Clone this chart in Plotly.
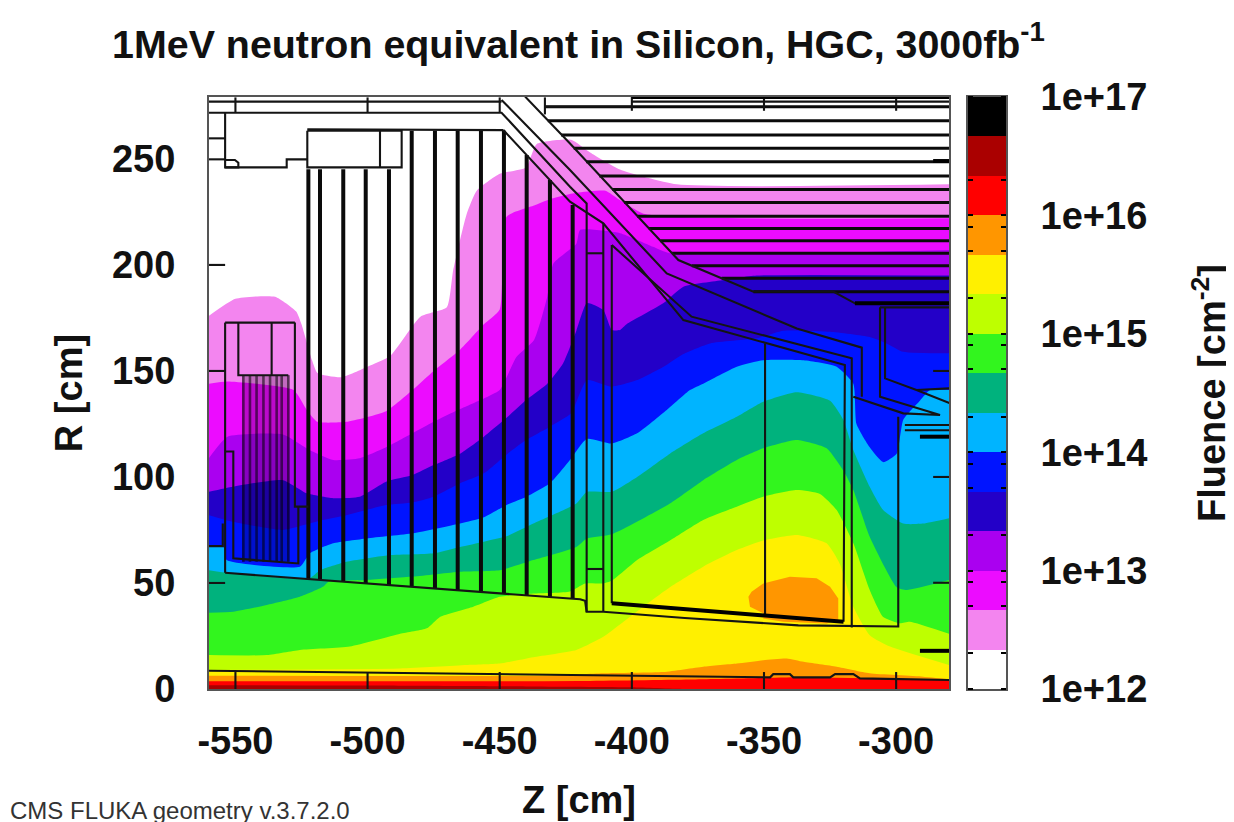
import plotly.graph_objects as go

# ---- colour scale: fluence levels from 1e12 to 1e17 (three bands per decade)
LEVEL_COLORS = ["#ffffff", "#f385ef", "#ec0cff", "#aa00f0", "#2300c8", "#0014ff", "#00b4ff",
                "#00b27d", "#32f51e", "#beff00", "#fff000", "#ff9600", "#ff0000", "#aa0000", "#000000"]
DECADE_EDGES = [12 + i / 3 for i in range(16)]
DECADE_TICKS = [12, 13, 14, 15, 16, 17]
DECADE_LABELS = ["1e+12", "1e+13", "1e+14", "1e+15", "1e+16", "1e+17"]
MINOR_TICKS = [12.301, 12.699, 12.903, 13.301, 13.699, 13.903, 14.301, 14.699, 14.903,
               15.301, 15.699, 15.903, 16.301]

# ---- upper edge of each fluence band, R [cm] against Z [cm]
PINK_Z = [-560, -550, -535, -527, -525, -521, -519, -510, -500, -491.5, -480, -470, -467.6, -462.5, -458.7, -450, -440, -436, -423, -415.8, -404.5, -383, -280]
PINK_R = [176, 184, 185, 178, 172, 155, 149, 147, 152, 157, 175.6, 180, 197.6, 224, 235, 243, 246, 257, 259, 253, 245, 238, 238]
MAGENTA_Z = [-560, -553, -528, -523, -519, -508, -493, -483, -475, -465, -456, -450, -447.4, -437, -431, -421, -410, -405, -395, -280]
MAGENTA_R = [144, 145, 141, 131.6, 126, 126, 131, 141, 150, 160, 172, 179, 222.7, 228, 231, 234, 235, 231, 224, 222]
PURPLE_Z = [-560, -553, -532, -522, -513, -503, -493, -483, -475, -465, -456, -450, -443.6, -437, -432, -429.7, -421, -419.6, -404.5, -392, -385.6, -280]
PURPLE_R = [109, 119, 120, 112.7, 108, 108.8, 114, 120.6, 126, 132, 137, 141, 156.7, 164.6, 185, 200.7, 210, 216.5, 215, 208.6, 205.5, 207]
INDIGO_Z = [-560, -551, -532, -523, -513, -503, -493, -483, -475, -465, -456, -447, -440, -432, -426, -421, -417, -410.8, -407.6, -404.5, -402, -388, -380.5, -365.4, -352.8, -280]
INDIGO_R = [93, 95.4, 98.5, 92.3, 90, 90.7, 97.8, 100.9, 105.6, 111, 119, 128.4, 136.3, 144, 153.6, 169, 182, 178.7, 169.3, 169.3, 172, 182, 189.7, 192.9, 195, 195]
BLUE_Z = [-560, -551, -532, -522, -517, -508, -493, -483, -475, -465, -456, -447, -440, -431, -423, -417, -407.6, -398, -388, -380.5, -370.4, -352.8, -342.7, -325, -310, -303.6, -297.3, -280]
BLUE_R = [82, 78.9, 75, 78, 79.7, 82, 86.8, 88, 90.7, 97, 101.7, 111, 117.4, 123.7, 130, 145.7, 142.6, 145.7, 152, 158, 163, 165.4, 169, 168.5, 166, 163, 159, 158.3]
SKY_Z = [-560, -554.5, -553.3, -525.6, -521.8, -513, -500.3, -482.7, -465, -456, -447.4, -439.8, -431, -423.4, -417, -407.6, -398, -386.8, -378, -373, -360.3, -350.3, -335, -322.5, -316.2, -315, -310, -304.9, -299.8, -297.3, -291, -287.2, -280]
SKY_R = [67, 67, 60.8, 57.7, 64, 68.7, 71, 73.4, 78, 81, 86.8, 90.7, 97, 108, 118, 115.8, 120.6, 131.6, 141, 144, 152, 155, 155, 152, 144, 125, 114, 107, 111, 127, 136, 141, 141]
TEAL_Z = [-560, -553.3, -522, -518, -508, -492.8, -475, -465, -456, -447.4, -437.3, -421, -417, -407.6, -398, -385.6, -373, -360.3, -350.3, -337.6, -325, -320, -316.2, -310, -304.9, -297.3, -289.7, -280]
TEAL_R = [56, 54.8, 52.2, 56, 60, 63, 64, 67, 69.5, 72, 78, 87.5, 93, 93, 100, 111, 120.6, 128.4, 135.5, 140, 136, 127, 112.7, 95.4, 84.4, 78, 78, 80.5]
GREEN_Z = [-560, -550.8, -538.2, -525.6, -516.7, -514.8, -500.3, -482.7, -465, -450, -437.3, -421, -417, -407.6, -385.6, -373, -360.3, -350.3, -337.6, -326.3, -320, -316.2, -310, -299.8, -296, -280]
GREEN_R = [36, 36.4, 39.6, 43.5, 48.3, 50.6, 51.4, 53, 55.3, 56, 60.8, 67, 71, 73, 87.5, 98.5, 108, 113.5, 117.4, 113.5, 103, 93.8, 71.8, 48, 46.7, 51.4]
LIME_Z = [-560, -538, -525.6, -506.7, -487.7, -477.6, -472.6, -460, -450, -437.3, -423.4, -417.7, -410.8, -407.6, -398, -385.6, -373, -360.3, -350.3, -337.6, -328.8, -322.5, -316.2, -310, -304.9, -298.6, -294.8, -280]
LIME_R = [16, 16, 18.4, 20, 26, 28.6, 34, 38.8, 43.5, 45, 46, 49.8, 49.8, 51, 60.8, 70, 79.7, 86, 90.7, 93.8, 92, 84.4, 68.7, 46.7, 34, 31, 31.7, 26]
YELLOW_Z = [-560, -487.7, -462.5, -450, -437.3, -421, -410.8, -403.9, -394.4, -385.6, -373, -360.3, -350.3, -337.6, -326.3, -321.3, -316.2, -310, -302.3, -280]
YELLOW_R = [9, 9.7, 11.3, 12, 15, 18.4, 24.6, 31, 40, 48, 57.7, 65.5, 70, 72.6, 68.7, 59, 38.8, 25.4, 20, 11.3]
ORANGE_Z = [-560, -430, -410.8, -388, -373, -360.3, -350.3, -341.4, -335, -322.5, -310, -289.7, -280]
ORANGE_R = [6.3, 6.3, 7.4, 8, 10.5, 12, 13.6, 14.4, 12.8, 10.5, 7.4, 5.8, 4.6]
RED_Z = [-560, -420, -378, -335, -280]
RED_R = [3.6, 3.8, 4.5, 5.5, 4.2]
DARKRED_Z = [-560, -500, -440, -400, -380, -280]
DARKRED_R = [1.8, 1.6, 1.2, 0.8, 0, 0]
BLOB_Z = [-355.9, -355.3, -350.3, -350.3, -342.7, -326.3, -321.9, -321.9, -325, -330.1, -340.2, -345.2, -350.3, -354.7, -355.9]
BLOB_R = [43.5, 38.8, 35.7, 33.3, 31.7, 30.9, 32.5, 42.7, 48.2, 52.2, 52.9, 51.4, 49.8, 45.9, 43.5]

# ---- detector geometry outline, Z and R in cm (None breaks the line)
THIN_Z = [-560, -449.3, None, -560, -449.3, -423.4, -417.1, -417.1, -410.8, -380, -337, -299.2, -299.2, None,
          -522.8, -448.6, None, -550, -550, None, -500, -500, None, -450, -450, None,
          -553.9, -553.9, -548.9, -548.9, -550.2, -553.9, None, -553.9, -530.6, -530.6, -522.8, None,
          -522.8, -522.8, -487.1, -487.1, -522.8, None, -495.3, -495.3, None,
          -560, -553.9, None, -560, -553.9, None, -560, -553.9, None, -560, -553.9, None,
          -440.4, -423.4, -382.4, -354, -323.8, -315.6, -279.6, None,
          -449.3, -423.4, -386.8, -337.6, -313, -313, None,
          -448.6, -423.4, -410.8, -380.5, -319.4, -319.9, None,
          -407.6, -407.6, None, -407.6, -377.4, -316.8, -316.8, None, -349.6, -349.6, None,
          -410.8, -410.8, None,
          -306.1, -306.1, -283.4, -297.3, -316.2, None, -304.2, -304.2, -292.3, -279.6, None, -292.3, -279.6, None,
          -306.1, -279.6, None, -296.7, -279.6, None, -296.7, -279.6, None,
          -286, -280, None, -286, -280, None, -286, -280, None,
          -417.1, -410.8, None, -417.1, -410.8, None,
          -553.9, -553.9, None, -527.5, -527.5, -522.4, None, -553.9, -527.5, None,
          -548.9, -548.9, -530, None, -536.3, -536.3, None, -553.9, -550.8, -550.8, -526.2, -526.2, None,
          -560, -554.8, -554.8, None, -560, -553.9, None,
          -553.9, -419.6, -417.7, -417.1, None,
          -560, -350.3, -347.7, -346.5, -340.2, -338.9, -325, -323.1, -316.2, -313.7, -279.6, None,
          -550, -550, None, -500, -500, None, -450, -450, None, -400, -400, None, -350, -350, None, -300, -300, None,
          -400, -400, None, -350, -350, None, -300, -300, None, -432.9, -432.9, None, -432.9, -400, None, -400, -280]
THIN_R = [277, 277, None, 271.8, 271.8, 236.9, 229, 36.4, 36.4, 33.5, 30, 29.5, 128.4, None,
          264, 263.6, None, 279, 271.8, None, 279, 271.8, None, 279, 271.8, None,
          271.8, 246, 246, 248.2, 249.5, 249.5, None, 246, 246, 249.8, 249.8, None,
          263.3, 246, 246, 263.3, 263.3, None, 263.3, 246, None,
          259.7, 259.7, None, 249.8, 249.8, None, 200, 200, None, 150, 150, None,
          279.4, 257.3, 202.3, 187.4, 187.4, 181.9, 181.9, None,
          277.8, 244.8, 196, 170, 161, 137.8, None,
          263.6, 229.8, 219.6, 174, 152.8, 31.7, None,
          209.4, 40.4, None, 209.4, 175.6, 156, 29, None, 163, 34, None,
          219.6, 36.4, None,
          180, 137.8, 129.2, 130, 137.8, None, 180, 146.5, 141, 134.7, None, 141, 141.8, None,
          180, 180, None, 124.5, 124.5, None, 122, 122, None,
          100, 100, None, 50.1, 50.1, None, 150, 150, None,
          205.5, 205.5, None, 56.6, 56.6, None,
          172.8, 54.8, None, 172.8, 86, 86, None, 172.8, 172.8, None,
          172.8, 148, 148, None, 172.8, 148, None, 112, 112, 61.6, 59.2, 86, None,
          67.4, 67.4, 78, None, 50, 50, None,
          54.8, 42.3, 41.6, 36.4, None,
          8.6, 5.5, 5.5, 7, 7, 5.5, 5.5, 7, 7, 5, 4.2, None,
          8, 0, None, 8, 0, None, 8, 0, None, 8, 0, None, 8, 0, None, 8, 0, None,
          280, 272.7, None, 280, 272.7, None, 280, 272.7, None, 279, 271, None, 274.6, 274.6, None, 277, 277]
THICK_Z = [-407.6, -319.9, None, -315.6, -279.6, None, -400, -280, None,
           -291, -280, None, -291, -280, None, -286, -280]
THICK_R = [40.4, 31.7, None, 181.9, 181.9, None, 279.2, 279.2, None,
           119, 119, None, 18, 18, None, 249, 249]

# absorber plates
PLATE_Z = [-522.4, -518, -509.2, -500.7, -491.9, -483.3, -474.5, -465.9, -457.1, -448.4, -439.8, -431, -422.4]
PLATE_TOP_R = [245.1, 245.1, 245.1, 245.1, 245.1, 263.3, 263.3, 263.3, 263.3, 263.3, 251.8, 240, 228.3]
PLATE_BOTTOM_R = [51.9, 51.5, 50.6, 49.8, 49, 48.2, 47.4, 46.6, 45.8, 45, 44.2, 43.4, 42.5]

# fine layers of the inner detector, and the denser block that they form
LAYER_Z = [-547, -544.5, -542, -539.4, -536.9, -534.4, -532.5, -530]
LAYER_TOP_R = 148
LAYER_BOTTOM_R = 60
LAYER_BLOCK_Z = [-547.5, -529.5, -529.5, -547.5, -547.5]
LAYER_BLOCK_R = [148, 148, 60, 60, 148]

# horizontal shelves on the upper right: R and starting Z
SHELF_R = [274.6, 268, 261.3, 255, 248.7, 242, 235.6, 229.5, 223, 217.2, 211.4, 205.5, 199.6, 193.7, 187.4]
SHELF_Z = [-432.9, -431.8, -426.8, -422, -417.3, -412.3, -407.4, -402.9, -398, -393.6, -389.2, -384.8, -377.3, -366, -354]

Z_TICKS = [-550, -500, -450, -400, -350, -300]
Z_LABELS = ["-550", "-500", "-450", "-400", "-350", "-300"]
R_TICKS = [0, 50, 100, 150, 200, 250]
R_LABELS = ["0", "50", "100", "150", "200", "250"]

FONT = "Liberation Sans"
INK = "#111111"
fig = go.Figure()

bands = [(PINK_Z, PINK_R, 1), (MAGENTA_Z, MAGENTA_R, 2), (PURPLE_Z, PURPLE_R, 3), (INDIGO_Z, INDIGO_R, 4),
         (BLUE_Z, BLUE_R, 5), (SKY_Z, SKY_R, 6), (TEAL_Z, TEAL_R, 7), (GREEN_Z, GREEN_R, 8),
         (LIME_Z, LIME_R, 9), (YELLOW_Z, YELLOW_R, 10), (ORANGE_Z, ORANGE_R, 11), (RED_Z, RED_R, 12),
         (DARKRED_Z, DARKRED_R, 13)]
for zs, rs, idx in bands:
    fig.add_trace(go.Scatter(x=zs, y=rs, mode="lines",
                             line=dict(width=0, color=LEVEL_COLORS[idx], shape="spline", smoothing=0.5),
                             fill="tozeroy", fillcolor=LEVEL_COLORS[idx], hoverinfo="skip"))
fig.add_trace(go.Scatter(x=BLOB_Z, y=BLOB_R, mode="lines", line=dict(width=0, color=LEVEL_COLORS[11]),
                         fill="toself", fillcolor=LEVEL_COLORS[11], hoverinfo="skip"))

def broken(pairs):
    xs, ys = [], []
    for (x0, x1, y0, y1) in pairs:
        xs += [x0, x1, None]
        ys += [y0, y1, None]
    return xs, ys

fig.add_trace(go.Scatter(x=LAYER_BLOCK_Z, y=LAYER_BLOCK_R, mode="lines", line=dict(width=0, color="rgba(0,0,0,0)"),
                         fill="toself", fillcolor="rgba(0,0,0,0.2)", hoverinfo="skip"))
lz, lr = broken([(z, z, LAYER_TOP_R, LAYER_BOTTOM_R) for z in LAYER_Z])
fig.add_trace(go.Scatter(x=lz, y=lr, mode="lines", line=dict(color="rgba(0,0,0,0.55)", width=2.6), hoverinfo="skip"))
sz, sr = broken([(z, -280, r, r) for z, r in zip(SHELF_Z, SHELF_R)])
fig.add_trace(go.Scatter(x=sz, y=sr, mode="lines", line=dict(color="#0a0a0a", width=3), hoverinfo="skip"))
pz, pr = broken([(z, z, t, b) for z, t, b in zip(PLATE_Z, PLATE_TOP_R, PLATE_BOTTOM_R)])
fig.add_trace(go.Scatter(x=pz, y=pr, mode="lines", line=dict(color="#0a0a0a", width=4), hoverinfo="skip"))
fig.add_trace(go.Scatter(x=THIN_Z, y=THIN_R, mode="lines", line=dict(color="#141414", width=2.1), hoverinfo="skip"))
fig.add_trace(go.Scatter(x=THICK_Z, y=THICK_R, mode="lines", line=dict(color="#000000", width=4), hoverinfo="skip"))

# colour bar drawn as a one-column heat map on its own axes
steps = []
n = len(LEVEL_COLORS)
for i, c in enumerate(LEVEL_COLORS):
    steps += [[i / n, c], [(i + 1) / n, c]]
fig.add_trace(go.Heatmap(x=[0, 1], y=DECADE_EDGES, z=[[i] for i in range(n)], zmin=-0.5, zmax=n - 0.5,
                         colorscale=steps, showscale=False, xaxis="x2", yaxis="y2", hoverinfo="skip"))

tick_font = dict(family=FONT, size=38, color=INK)
axis_line = dict(showline=True, mirror=True, linecolor="#555555", linewidth=2, showgrid=False, zeroline=False)
fig.update_layout(
    width=1234, height=822, showlegend=False,
    margin=dict(l=201, r=236, t=89, b=141, autoexpand=False),
    paper_bgcolor="white", plot_bgcolor="white",
    font=dict(family=FONT, color=INK),
    title=dict(text="<b>1MeV neutron equivalent in Silicon, HGC, 3000fb<sup>-1</sup></b>", font=dict(family=FONT, size=39.4, color=INK),
               x=104 / 1234, xanchor="left", xref="container", y=1 - 36 / 822, yanchor="middle", yref="container"),
    xaxis=dict(domain=[0, 740 / 797], range=[-560, -280], tickvals=Z_TICKS, ticktext=["<b>%s</b>" % s for s in Z_LABELS],
               ticks="", tickfont=tick_font, ticklabelstandoff=17,
               title=dict(text="<b>Z [cm]</b>", font=tick_font, standoff=26), **axis_line),
    yaxis=dict(range=[0, 279.2], tickvals=R_TICKS, ticktext=["<b>%s</b>" % s for s in R_LABELS],
               ticks="", tickfont=tick_font, ticklabelstandoff=24,
               title=dict(text="<b>R [cm]</b>", font=tick_font, standoff=18), **axis_line),
    xaxis2=dict(domain=[759 / 797, 1], anchor="y2", range=[0, 1], showticklabels=False, ticks="", **axis_line),
    yaxis2=dict(anchor="x2", side="right", range=[12, 17], tickmode="array",
                tickvals=DECADE_TICKS, ticktext=["<b>%s</b>" % s for s in DECADE_LABELS], ticks="",
                tickfont=tick_font, ticklabelstandoff=25,
                minor=dict(tickmode="array", tickvals=MINOR_TICKS + DECADE_TICKS, ticks="inside", ticklen=5, tickcolor="#000000", tickwidth=1.5),
                title=dict(text="<b>Fluence [cm<sup>-2</sup>]</b>", font=tick_font, standoff=52),
                showline=True, mirror="ticks", linecolor="#555555", linewidth=2, showgrid=False, zeroline=False),
    annotations=[dict(text="CMS FLUKA geometry v.3.7.2.0", xref="paper", yref="paper", x=-201 / 797, y=-121 / 592,
                      xanchor="left", yanchor="middle", showarrow=False, font=dict(family=FONT, size=24, color="#333333"))],
)
fig.write_html("out.html")
